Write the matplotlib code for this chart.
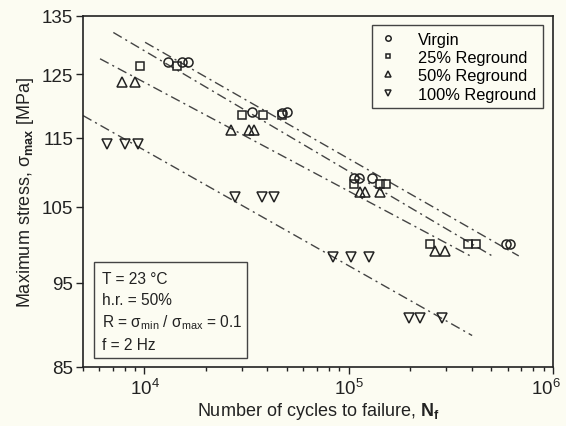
import matplotlib
matplotlib.use("Agg")
import matplotlib.pyplot as plt
import matplotlib.transforms as mtransforms
from matplotlib.patches import Rectangle
from matplotlib.ticker import LogLocator, NullFormatter, FixedLocator, FixedFormatter

# cycles to failure / max stress (MPa)
n_virgin = [13100, 15200, 16400, 33700, 47200, 50000, 105700, 111800, 130000, 586000, 615000]
s_virgin = [127.0, 127.0, 127.0, 119.0, 118.8, 119.0, 109.0, 109.0, 109.0, 100.0, 100.0]

n_25 = [9500, 14400, 30100, 38100, 47200, 106000, 143000, 153000, 251000, 384000, 418000]
s_25 = [126.4, 126.4, 118.5, 118.5, 118.5, 108.2, 108.2, 108.2, 100.0, 100.0, 100.0]

n_50 = [7740, 9000, 26500, 32500, 34500, 113000, 120500, 141600, 264000, 295000]
s_50 = [123.8, 123.8, 116.1, 116.1, 116.1, 107.1, 107.1, 107.1, 99.1, 99.1]

n_100 = [6530, 8030, 9340, 27800, 37600, 43200, 83400, 102600, 125300, 196800, 224500, 286000]
s_100 = [114.0, 114.0, 114.0, 106.3, 106.3, 106.3, 98.2, 98.2, 98.2, 90.7, 90.7, 90.7]

# fitted lines (end points)
fit_n = {"virgin": [10070, 680000], "25": [7040, 504000], "50": [6060, 394000], "100": [5000, 402000]}
fit_s = {"virgin": [130.4, 98.4], "25": [132.1, 98.4], "50": [127.6, 98.4], "100": [118.4, 88.6]}

y_ticks = [85, 95, 105, 115, 125, 135]
x_ticks = [1e4, 1e5, 1e6]
x_labels = [r"$\mathregular{10^4}$", r"$\mathregular{10^5}$", r"$\mathregular{10^6}$"]

plt.rcParams["font.family"] = ["Liberation Sans", "DejaVu Sans"]
plt.rcParams["mathtext.fontset"] = "custom"
plt.rcParams["mathtext.rm"] = "Liberation Sans"
plt.rcParams["mathtext.it"] = "Liberation Sans:italic"
plt.rcParams["mathtext.bf"] = "Liberation Sans:bold"
plt.rcParams["font.size"] = 13

bg = "#fcfcf2"
ink = "#222222"

fig = plt.figure(figsize=(5.66, 4.27), dpi=100, facecolor=bg)
ax = fig.add_axes([0.1466, 0.1382, 0.8304, 0.822], facecolor=bg)

dashdot = (0, (7, 3, 1.5, 3))
for key in ["virgin", "25", "50", "100"]:
    ax.plot(fit_n[key], fit_s[key], color="#444444", lw=1.0, ls=dashdot)

mk = dict(ls="none", mfc="none", mec=ink, mew=1.1, ms=6.5)
ax.plot(n_virgin, s_virgin, marker="o", label="Virgin", **mk)
ax.plot(n_25, s_25, marker="s", label="25% Reground", **dict(mk, ms=5.5))
ax.plot(n_50, s_50, marker="^", label="50% Reground", **mk)
ax.plot(n_100, s_100, marker="v", label="100% Reground", **mk)

ax.set_xscale("log")
ax.set_yscale("log")
ax.set_xlim(5000, 1e6)
ax.set_ylim(85, 135)
ax.yaxis.set_major_locator(FixedLocator(y_ticks))
ax.yaxis.set_major_formatter(FixedFormatter([str(t) for t in y_ticks]))
ax.yaxis.set_minor_locator(FixedLocator([]))
ax.xaxis.set_major_locator(FixedLocator(x_ticks))
ax.xaxis.set_major_formatter(FixedFormatter(x_labels))
ax.xaxis.set_minor_locator(LogLocator(base=10, subs=range(2, 10)))
ax.xaxis.set_minor_formatter(NullFormatter())
ax.tick_params(axis="both", which="major", direction="out", length=5, width=1, colors=ink,
               labelcolor=ink, labelsize=13.5)
ax.tick_params(axis="x", which="minor", direction="out", length=3, width=1, colors=ink)
ax.tick_params(axis="x", which="major", pad=3)
ax.tick_params(axis="y", which="major", pad=2)
ax.tick_params(top=False, right=False)
for sp in ax.spines.values():
    sp.set_linewidth(1.2)
    sp.set_color(ink)

ax.set_xlabel(r"Number of cycles to failure, $\mathbf{N_f}$", color=ink, labelpad=1)
ax.set_ylabel(r"Maximum stress, $\mathrm{\sigma}_{\mathbf{max}}$ [MPa]", color=ink, labelpad=4)

leg = ax.legend(loc="upper right", bbox_to_anchor=(0.978, 0.974), borderaxespad=0,
                fancybox=False, edgecolor="#444444", facecolor=bg, framealpha=1,
                markerscale=0.6, handlelength=1.2, handletextpad=1.2, labelspacing=0.2,
                borderpad=0.4, fontsize=11.8)
leg.get_frame().set_linewidth(1.0)

ax.add_patch(Rectangle((0.0234, 0.0256), 0.326, 0.2744, transform=ax.transAxes,
                       fill=False, edgecolor="#444444", lw=1.0))
box_lines = ["T = 23 °C", "h.r. = 50%",
             r"R = $\mathrm{\sigma_{min}}$ / $\mathrm{\sigma_{max}}$ = 0.1", "f = 2 Hz"]
box_y = [0.257, 0.197, 0.137, 0.068]
for txt, yy in zip(box_lines, box_y):
    ax.text(0.0398, yy, txt, transform=ax.transAxes, va="center_baseline", ha="left",
            color=ink, fontsize=11.2)

# nudge the 10^6 label so it stays inside the figure
fig.canvas.draw()
last = ax.xaxis.get_major_ticks()[-1].label1
last.set_transform(last.get_transform() + mtransforms.ScaledTranslation(-5 / 72, 0, fig.dpi_scale_trans))

fig.savefig("out.png", dpi=100, facecolor=bg)
